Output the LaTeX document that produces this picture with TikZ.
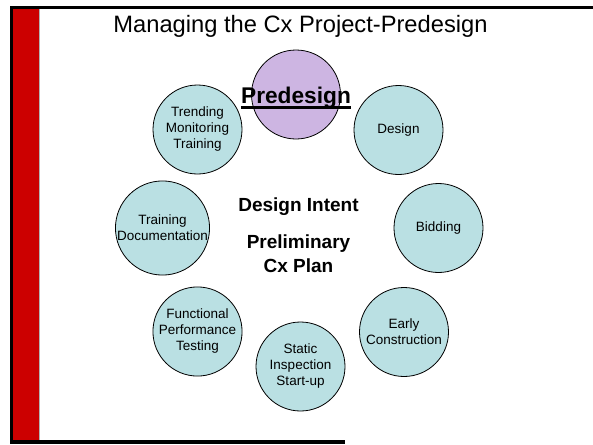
\documentclass[tikz,border=0pt]{standalone}
\usepackage{fontspec}
\setmainfont{Liberation Sans}
\definecolor{ringfill}{RGB}{186,224,227}
\definecolor{purplefill}{RGB}{205,181,226}
\definecolor{barred}{RGB}{204,0,0}
\tikzset{
  stage/.style={circle, draw=black, line width=0.8pt, fill=ringfill, minimum size=89pt, inner sep=0pt,
    align=center, font=\fontsize{13.5}{16}\selectfont},
  hubtext/.style={font=\fontsize{19}{24.5}\selectfont\bfseries, align=center, inner sep=0pt},
}
\begin{document}
\begin{tikzpicture}[x=1pt,y=-1pt]
\useasboundingbox (0,0) rectangle (593,444);
\fill[white] (0,0) rectangle (593,444);
% frame
\fill[black] (10,6) rectangle (593,9);
\fill[black] (10,6) rectangle (12.5,444);
\fill[black] (10,440) rectangle (345,444);
\fill[barred] (12.5,9) rectangle (39.5,440);
\draw[gray!60, line width=0.6pt] (39.7,9) -- (39.7,440);
% title
\node[anchor=base, inner sep=0pt, font=\fontsize{23.7}{28}\selectfont] (title) at (300.5,33) {Managing the Cx Project-Predesign};
% circles
\node[stage, fill=purplefill] (pre) at (296,94.5) {};
\node[stage] (des) at (398.5,130) {Design};
\node[stage] (bid) at (438.5,228) {Bidding};
\node[stage] (early) at (404,332) {Early\\Construction};
\node[stage] (static) at (300.5,366.5) {Static\\Inspection\\Start-up};
\node[stage] (func) at (197.5,331.5) {Functional\\Performance\\Testing};
\node[stage] (doc) at (162.5,228) {Training\\Documentation};
\node[stage] (trend) at (197.5,129.5) {Trending\\Monitoring\\Training};
% predesign label
\node[anchor=base, inner sep=0pt, font=\fontsize{22.7}{26}\selectfont\bfseries] (pdtext) at (296,103) {Predesign};
\draw[line width=2.4pt] ([yshift=-4.5pt]pdtext.base west) -- ([yshift=-4.5pt]pdtext.base east);
% center text
\node[hubtext, anchor=base] (intent) at (298.5,211) {Design Intent};
\node[hubtext, anchor=base] (plan) at (298.5,248) {Preliminary};
\node[hubtext, anchor=base] (plan2) at (298.5,272.5) {Cx Plan};
\end{tikzpicture}
\end{document}
